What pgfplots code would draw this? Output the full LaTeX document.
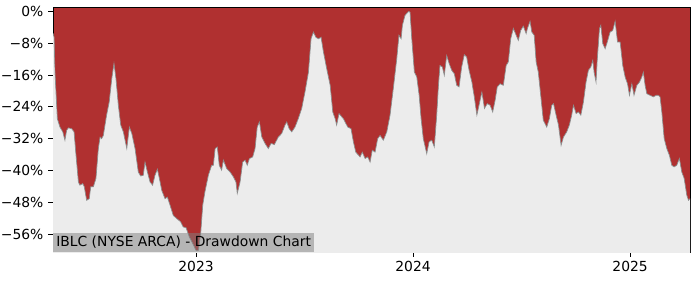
\documentclass[border=0pt]{standalone}
\usepackage{fontspec}
\setmainfont{DejaVu Sans}
\usepackage{pgfplots}
\usepackage{pgfplotstable}
\pgfplotsset{compat=1.18}
\definecolor{ddred}{RGB}{176,48,48}
\definecolor{bggray}{RGB}{236,236,236}
\definecolor{edgegray}{RGB}{140,140,140}
\pgfplotstableread{
x y
2022.341 -5.5
2022.346 -6.5
2022.350 -15.3
2022.361 -27.0
2022.373 -29.1
2022.386 -30.3
2022.396 -32.4
2022.404 -29.9
2022.412 -29.3
2022.427 -29.5
2022.438 -30.3
2022.447 -36.2
2022.458 -42.9
2022.465 -43.7
2022.478 -43.3
2022.485 -44.1
2022.496 -47.5
2022.508 -47.1
2022.515 -44.1
2022.527 -44.1
2022.539 -42.0
2022.550 -34.5
2022.558 -31.6
2022.565 -32.0
2022.573 -31.2
2022.588 -26.1
2022.600 -22.8
2022.612 -16.9
2022.622 -13.1
2022.631 -16.9
2022.642 -23.6
2022.653 -28.6
2022.665 -30.3
2022.681 -34.5
2022.693 -29.1
2022.704 -30.7
2022.719 -34.5
2022.734 -40.4
2022.745 -41.4
2022.757 -41.2
2022.765 -37.9
2022.776 -40.4
2022.788 -42.9
2022.800 -43.7
2022.811 -41.2
2022.822 -39.7
2022.831 -42.0
2022.842 -45.0
2022.857 -47.1
2022.868 -46.7
2022.880 -48.7
2022.895 -51.3
2022.911 -52.1
2022.929 -52.9
2022.941 -54.2
2022.954 -54.4
2022.969 -56.7
2022.985 -58.4
2023.000 -60.1
2023.011 -60.1
2023.022 -55.5
2023.031 -48.7
2023.041 -45.4
2023.057 -41.2
2023.072 -38.7
2023.080 -38.7
2023.088 -34.5
2023.098 -34.1
2023.107 -38.7
2023.118 -39.9
2023.126 -37.4
2023.141 -39.5
2023.157 -40.4
2023.172 -41.6
2023.184 -42.9
2023.190 -45.8
2023.203 -42.9
2023.215 -37.9
2023.226 -37.4
2023.236 -38.7
2023.246 -37.0
2023.261 -36.6
2023.272 -34.5
2023.282 -29.1
2023.292 -27.8
2023.303 -31.6
2023.318 -33.2
2023.333 -34.5
2023.346 -33.2
2023.361 -33.5
2023.379 -31.6
2023.395 -30.7
2023.410 -28.6
2023.418 -27.8
2023.429 -29.5
2023.441 -30.3
2023.456 -29.1
2023.471 -27.0
2023.487 -24.4
2023.502 -20.3
2023.518 -15.3
2023.530 -6.9
2023.541 -5.2
2023.552 -6.5
2023.564 -6.9
2023.576 -6.5
2023.587 -10.2
2023.602 -14.4
2023.618 -18.6
2023.630 -25.3
2023.641 -27.0
2023.648 -28.6
2023.659 -25.7
2023.679 -27.0
2023.699 -29.1
2023.714 -29.5
2023.725 -32.8
2023.736 -35.4
2023.756 -36.6
2023.766 -35.4
2023.779 -37.0
2023.791 -36.6
2023.802 -37.9
2023.812 -34.9
2023.825 -35.4
2023.837 -32.0
2023.848 -31.2
2023.863 -32.4
2023.879 -30.3
2023.894 -26.1
2023.909 -19.4
2023.925 -11.9
2023.935 -6.0
2023.945 -6.9
2023.951 -3.5
2023.963 -1.0
2023.976 -0.2
2023.980 0.0
2023.986 -0.2
2023.994 -6.9
2024.006 -15.3
2024.017 -16.5
2024.028 -21.1
2024.037 -27.0
2024.047 -32.0
2024.063 -35.8
2024.074 -32.8
2024.086 -32.4
2024.098 -34.1
2024.109 -26.1
2024.117 -18.6
2024.124 -13.6
2024.135 -14.0
2024.144 -16.1
2024.155 -11.1
2024.166 -13.1
2024.178 -14.8
2024.190 -15.7
2024.201 -18.6
2024.212 -19.0
2024.224 -14.0
2024.236 -10.9
2024.247 -11.5
2024.258 -14.8
2024.271 -17.8
2024.282 -21.5
2024.294 -26.1
2024.304 -23.6
2024.317 -20.3
2024.329 -24.4
2024.342 -23.2
2024.355 -23.6
2024.367 -25.3
2024.378 -22.4
2024.388 -19.0
2024.401 -18.2
2024.416 -18.6
2024.429 -13.6
2024.439 -12.7
2024.450 -6.9
2024.462 -4.3
2024.475 -6.0
2024.485 -7.3
2024.496 -4.8
2024.508 -3.7
2024.521 -5.6
2024.527 -4.3
2024.539 -2.5
2024.547 -5.2
2024.558 -6.0
2024.567 -12.7
2024.577 -15.3
2024.588 -21.1
2024.600 -27.4
2024.616 -29.1
2024.628 -27.0
2024.639 -23.6
2024.647 -23.2
2024.659 -26.1
2024.670 -28.6
2024.682 -33.7
2024.693 -31.6
2024.708 -30.3
2024.720 -28.6
2024.731 -26.1
2024.739 -23.6
2024.751 -25.7
2024.762 -25.3
2024.773 -26.1
2024.785 -22.8
2024.797 -17.8
2024.808 -14.8
2024.819 -14.0
2024.828 -12.3
2024.834 -15.3
2024.843 -17.8
2024.849 -11.9
2024.859 -4.3
2024.865 -3.5
2024.874 -8.1
2024.885 -9.4
2024.895 -7.7
2024.908 -5.2
2024.920 -4.8
2024.931 -2.5
2024.942 -7.7
2024.954 -7.7
2024.966 -13.6
2024.977 -16.5
2024.988 -18.2
2024.997 -21.1
2025.008 -18.2
2025.018 -21.1
2025.031 -18.6
2025.043 -17.8
2025.054 -16.5
2025.061 -15.3
2025.069 -18.6
2025.077 -20.7
2025.092 -21.1
2025.107 -21.5
2025.120 -21.1
2025.130 -21.1
2025.138 -21.5
2025.146 -25.3
2025.157 -32.0
2025.169 -34.5
2025.181 -36.2
2025.192 -38.7
2025.203 -39.1
2025.215 -38.7
2025.227 -37.0
2025.238 -40.4
2025.249 -42.0
2025.261 -46.2
2025.269 -47.5
2025.276 -47.1
}\dd

\begin{document}
\begin{tikzpicture}
\useasboundingbox (0,0) rectangle (525pt,210pt);
\begin{axis}[
  at={(39.75pt,21pt)}, anchor=south west,
  scale only axis, width=477.75pt, height=183.75pt,
  xmin=2022.341, xmax=2025.276, ymin=-60.5, ymax=1.1,
  axis background/.style={fill=ddred},
  xtick={2023,2024,2025}, xticklabels={2023,2024,2025},
  ytick={-56,-48,-40,-32,-24,-16,-8,0},
  yticklabels={−56\%,−48\%,−40\%,−32\%,−24\%,−16\%,−8\%,0\%},
  tick pos=left, tick align=outside, major tick length=3.7pt,
  every tick/.style={black, line width=0.6pt},
  axis line style={line width=0.6pt, black},
  ticklabel style={font=\fontsize{10.4}{12}\selectfont},
  /pgf/number format/assume math mode=true,
]
\addplot[fill=bggray, draw=none] table[x=x,y=y] {\dd} -- (2025.30,-47.1) -- (2025.30,-62) -- (2022.341,-62) -- cycle;
\addplot[edgegray, line width=0.5pt, mark=none] table[x=x,y=y] {\dd};
\node[anchor=south west, fill=gray, fill opacity=0.5, text opacity=1, inner sep=2.3pt, font=\fontsize{10.4}{12}\selectfont] at (rel axis cs:0,0) {IBLC (NYSE ARCA) - Drawdown Chart};
\end{axis}
\end{tikzpicture}
\end{document}
